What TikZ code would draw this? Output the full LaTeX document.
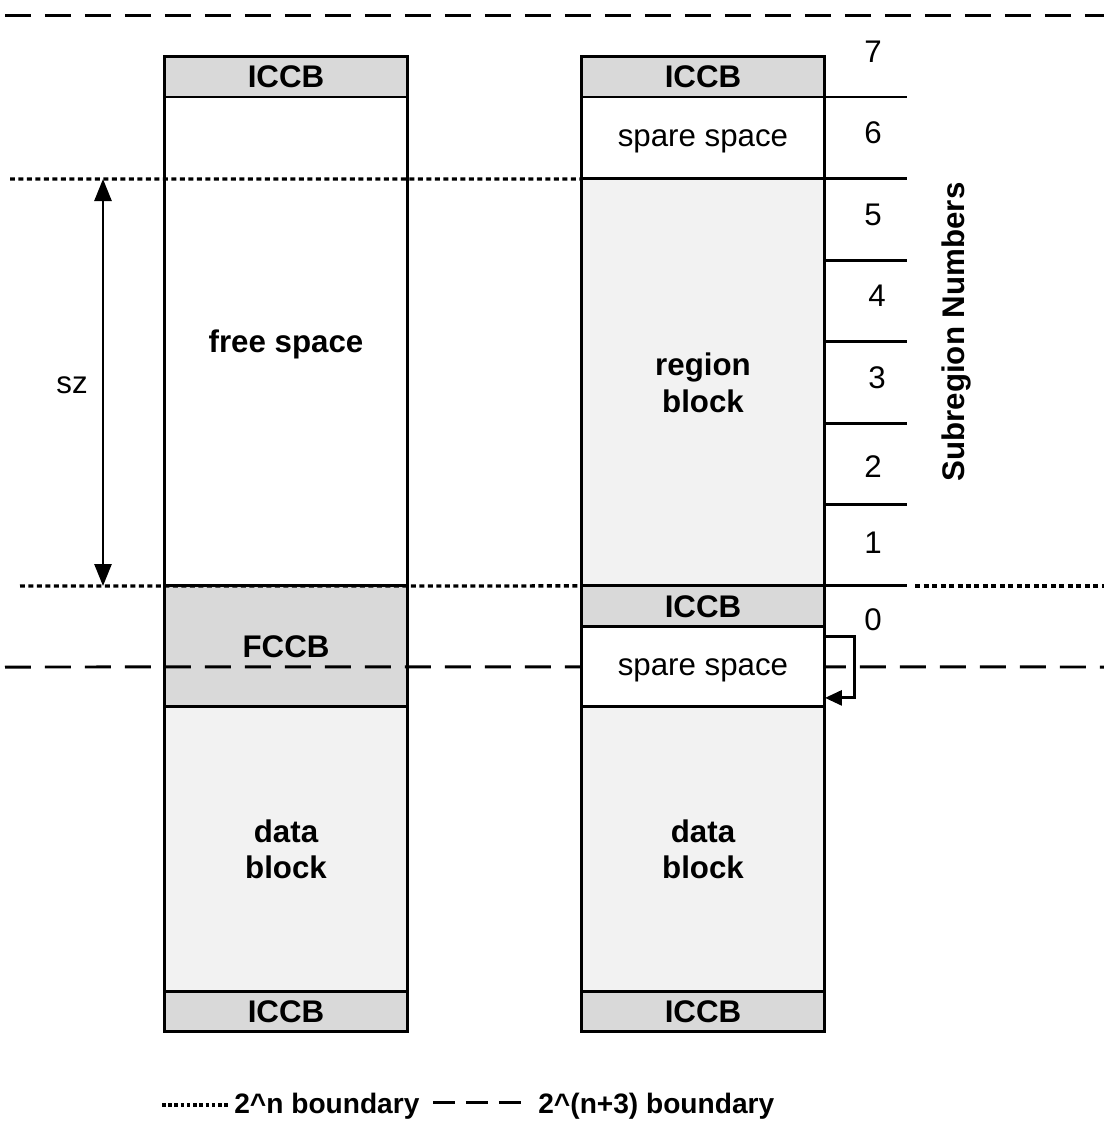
\documentclass[tikz,border=0pt]{standalone}
\usepackage{fontspec}
\setmainfont{Liberation Sans}
\usetikzlibrary{positioning,arrows.meta}

\definecolor{CtrlGray}{HTML}{D9D9D9}
\definecolor{BlockGray}{HTML}{F2F2F2}

\tikzset{
  cell/.style={draw,line width=1.7pt,minimum width=4.88cm,inner sep=0pt,
    outer sep=0pt,align=center,font=\fontsize{17.8}{21}\selectfont},
  ctrl/.style={cell,fill=CtrlGray,font=\fontsize{17.8}{21}\selectfont\bfseries},
  blockcell/.style={cell,fill=BlockGray,font=\fontsize{17.8}{21}\selectfont\bfseries},
  bnd/.style={line width=1.9pt,dash pattern=on 0.1cm off 0.07cm},
  bndwide/.style={line width=1.7pt,dash pattern=on 0.52cm off 0.28cm},
  tick/.style={line width=1.7pt},
  numlbl/.style={font=\fontsize{17.8}{21}\selectfont},
  leglbl/.style={anchor=west,inner sep=0pt,font=\fontsize{16}{19}\selectfont\bfseries}
}

\begin{document}
\begin{tikzpicture}[x=0.02cm,y=-0.02cm]
  \useasboundingbox (0,0) rectangle (1104,1137);

  % left column
  \node[ctrl,minimum height=0.82cm] (ltop) at (286,76.5) {ICCB};
  \node[cell,minimum height=9.78cm,text depth=0pt,font=\fontsize{17.8}{21}\selectfont\bfseries] (free) [below=0pt of ltop] {free space};
  \node[ctrl,minimum height=2.42cm] (fccb) [below=0pt of free] {FCCB};
  \node[blockcell,minimum height=5.7cm] (ldata) [below=0pt of fccb] {data\\block};
  \node[ctrl,minimum height=0.8cm] (lbot) [below=0pt of ldata] {ICCB};

  % right column
  \node[ctrl,minimum height=0.82cm] (rtop) at (703,76.5) {ICCB};
  \node[cell,minimum height=1.64cm,text depth=0pt] (spare1) [below=0pt of rtop] {spare space};
  \node[blockcell,minimum height=8.14cm] (region) [below=0pt of spare1] {region\\block};
  \node[ctrl,minimum height=0.82cm] (ricc) [below=0pt of region] {ICCB};
  \node[cell,minimum height=1.6cm,text depth=0pt] (spare2) [below=0pt of ricc] {spare space};
  \node[blockcell,minimum height=5.7cm] (rdata) [below=0pt of spare2] {data\\block};
  \node[ctrl,minimum height=0.8cm] (rbot) [below=0pt of rdata] {ICCB};

  % subregion ticks
  \draw[tick] (spare1.north east) -- ++(82,0);
  \draw[tick] (region.north east) -- ++(82,0);
  \draw[tick] (ricc.north east) -- ++(82,0);
  \foreach \y in {260,341,423,504}
    \draw[tick] (825,\y) -- (907,\y);

  \node[numlbl] (n7) at (873,52) {7};
  \node[numlbl] (n6) at (873,133) {6};
  \node[numlbl] (n5) at (873,215) {5};
  \node[numlbl] (n4) at (877,296) {4};
  \node[numlbl] (n3) at (877,378) {3};
  \node[numlbl] (n2) at (873,467) {2};
  \node[numlbl] (n1) at (873,543) {1};
  \node[numlbl] (n0) at (873,620) {0};
  \node[rotate=90,font=\fontsize{17.8}{21}\selectfont\bfseries] (subreg) at (956,332) {Subregion Numbers};

  % boundaries
  \draw[bndwide] (5,15) -- (1104,15);
  \draw[bnd] (10,179) -- (spare1.south west);
  \draw[bnd] (20,586) -- (ricc.north west);
  \draw[bnd] (915,586) -- (1104,586);
  \draw[bndwide] (5,667) -- (spare2.west);
  \draw[bndwide,dash phase=0.1cm] (spare2.east) -- (1104,667);

  % spare space pointer
  \draw[tick,-{Triangle[length=0.34cm,width=0.3cm]}]
    ([yshift=-0.2cm]spare2.north east) -- ++(30,0) |- ([yshift=0.18cm]spare2.south east);

  % sz dimension
  \coordinate (szTop) at (103,179);
  \coordinate (szBot) at (103,586);
  \draw[line width=1.5pt,{Triangle[length=0.44cm,width=0.34cm]}-{Triangle[length=0.44cm,width=0.34cm]}]
    (szTop) -- (szBot);
  \node[numlbl] (sz) at (72,385) {sz};

  % legend
  \coordinate (legA) at (162,1105);
  \coordinate (legB) at (230,1105);
  \coordinate (legC) at (433,1102);
  \coordinate (legD) at (526,1102);
  \draw[line width=2pt,dash pattern=on 0.07cm off 0.055cm] (legA) -- (legB);
  \node[leglbl] (leg1) at (234,1106) {2\textasciicircum n boundary};
  \draw[line width=1.7pt,dash pattern=on 0.44cm off 0.22cm] (legC) -- (legD);
  \node[leglbl] (leg2) at (538,1106) {2\textasciicircum(n+3) boundary};
\end{tikzpicture}
\end{document}
